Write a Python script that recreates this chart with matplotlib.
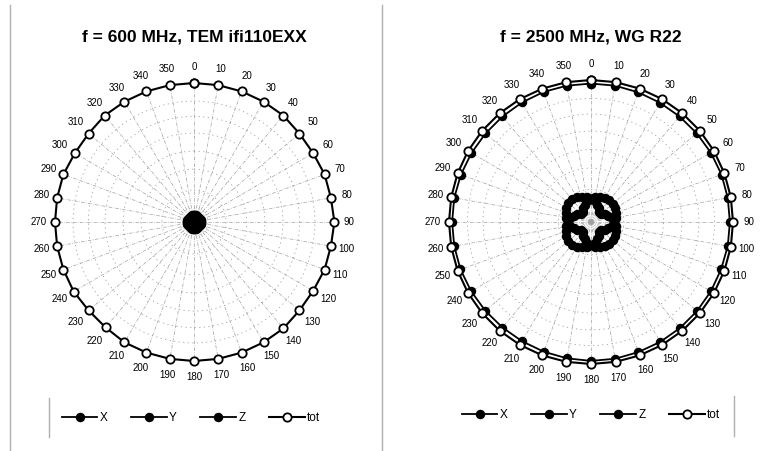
import matplotlib
matplotlib.use("Agg")
import matplotlib.pyplot as plt
import numpy as np
from matplotlib.lines import Line2D

plt.rcParams["font.family"] = ["Liberation Sans", "DejaVu Sans"]

# azimuth in degrees, 0 at top, clockwise
angles = list(range(0, 360, 10))
angle_labels = [str(a) for a in angles]

# 600 MHz, TEM cell: field components normalised to the total
tem_x = [0.05, 0.05, 0.05, 0.05, 0.05, 0.05, 0.05, 0.05, 0.05, 0.05, 0.05, 0.05,
         0.05, 0.05, 0.05, 0.05, 0.05, 0.05, 0.05, 0.05, 0.05, 0.05, 0.05, 0.05,
         0.05, 0.05, 0.05, 0.05, 0.05, 0.05, 0.05, 0.05, 0.05, 0.05, 0.05, 0.05]
tem_y = [0.04, 0.04, 0.04, 0.04, 0.04, 0.04, 0.04, 0.04, 0.04, 0.04, 0.04, 0.04,
         0.04, 0.04, 0.04, 0.04, 0.04, 0.04, 0.04, 0.04, 0.04, 0.04, 0.04, 0.04,
         0.04, 0.04, 0.04, 0.04, 0.04, 0.04, 0.04, 0.04, 0.04, 0.04, 0.04, 0.04]
tem_z = [0.03, 0.03, 0.03, 0.03, 0.03, 0.03, 0.03, 0.03, 0.03, 0.03, 0.03, 0.03,
         0.03, 0.03, 0.03, 0.03, 0.03, 0.03, 0.03, 0.03, 0.03, 0.03, 0.03, 0.03,
         0.03, 0.03, 0.03, 0.03, 0.03, 0.03, 0.03, 0.03, 0.03, 0.03, 0.03, 0.03]
tem_tot = [1.00, 1.00, 1.00, 1.00, 1.00, 0.99, 0.99, 1.00, 1.00, 1.01, 1.00, 1.00,
           0.99, 0.99, 1.00, 1.00, 1.00, 1.00, 1.00, 1.00, 1.00, 1.00, 0.99, 0.99,
           1.00, 1.00, 1.00, 1.00, 1.00, 1.00, 0.99, 0.99, 1.00, 1.00, 1.00, 1.00]

# 2500 MHz, waveguide R22
wg_x = [0.165, 0.18, 0.19, 0.195, 0.20, 0.20, 0.195, 0.19, 0.18, 0.165, 0.15, 0.13,
        0.11, 0.09, 0.09, 0.11, 0.13, 0.15, 0.165, 0.18, 0.19, 0.20, 0.21, 0.21,
        0.20, 0.19, 0.18, 0.165, 0.15, 0.13, 0.11, 0.09, 0.09, 0.11, 0.13, 0.15]
wg_y = [0.165, 0.15, 0.13, 0.11, 0.09, 0.09, 0.11, 0.13, 0.15, 0.165, 0.18, 0.19,
        0.195, 0.20, 0.20, 0.195, 0.19, 0.18, 0.165, 0.15, 0.13, 0.11, 0.09, 0.09,
        0.11, 0.13, 0.15, 0.165, 0.18, 0.19, 0.20, 0.21, 0.21, 0.20, 0.19, 0.18]
wg_z = [0.975, 0.975, 0.972, 0.97, 0.97, 0.972, 0.975, 0.978, 0.978, 0.978, 0.978, 0.975,
        0.975, 0.975, 0.975, 0.975, 0.975, 0.978, 0.978, 0.975, 0.972, 0.97, 0.97, 0.972,
        0.975, 0.978, 0.978, 0.978, 0.978, 0.975, 0.972, 0.97, 0.97, 0.972, 0.975, 0.975]
wg_tot = [1.00, 1.00, 1.00, 1.00, 1.00, 1.00, 1.00, 1.00, 1.00, 1.00, 1.00, 1.00,
          1.00, 1.00, 1.00, 1.00, 1.00, 1.00, 1.00, 1.00, 1.00, 1.00, 1.00, 1.00,
          1.00, 1.00, 1.00, 1.00, 1.00, 1.00, 1.00, 1.00, 1.00, 1.00, 1.00, 1.00]

ring_radii = [0.10, 0.23, 0.38, 0.51, 0.64, 0.76, 0.87]

W, H = 769, 451
fig = plt.figure(figsize=(W / 100, H / 100), dpi=100)


def closed(values):
    th = np.deg2rad(angles + [angles[0]])
    return th, list(values) + [values[0]]


def polar_panel(cx, cy, radius, title, x, y, z, tot, legend_cx, legend_y):
    ax = fig.add_axes([(cx - radius) / W, (H - cy - radius) / H,
                       2 * radius / W, 2 * radius / H], projection="polar")
    ax.set_theta_zero_location("N")
    ax.set_theta_direction(-1)
    ax.set_ylim(0, 1.0)
    ax.spines["polar"].set_visible(False)
    ax.set_thetagrids(angles, angle_labels, fontsize=7)
    ax.tick_params(axis="x", pad=1)
    ax.set_rgrids(ring_radii, labels=[])
    ax.xaxis.grid(True, color="#a0a0a0", lw=0.5, ls=(0, (5, 2, 1, 2)))
    ax.yaxis.grid(True, color="#a0a0a0", lw=0.6, ls=(0, (1.5, 4)))

    style = dict(color="black", lw=1.3, ms=5.5, mec="black", mew=1.3, clip_on=False)
    for vals, lab in [(x, "X"), (y, "Y"), (z, "Z")]:
        th, r = closed(vals)
        ax.plot(th, r, marker="o", mfc="black", label=lab, **style)
    th, r = closed(tot)
    ax.plot(th, r, marker="o", mfc="white", label="tot",
            **dict(style, lw=1.5, mew=1.3, ms=6))

    fig.text(cx / W, 1 - 37 / H, title, ha="center", va="center",
             fontsize=12.5, fontweight="bold")
    ax.legend(loc="center", bbox_to_anchor=(legend_cx / W, 1 - legend_y / H),
              bbox_transform=fig.transFigure, ncol=4, frameon=False,
              fontsize=8.5, handlelength=3.0, handletextpad=0.2,
              columnspacing=2.0, borderaxespad=0)
    return ax


polar_panel(194, 222, 139, "f = 600 MHz, TEM ifi110EXX",
            tem_x, tem_y, tem_z, tem_tot, 191, 418)
polar_panel(591, 222, 142, "f = 2500 MHz, WG R22",
            wg_x, wg_y, wg_z, wg_tot, 591, 415)

# thin frame rules of the panels
for x0, y0, y1 in [(10, 5, 451), (382, 5, 451), (49, 398, 437), (734, 396, 436)]:
    fig.add_artist(Line2D([x0 / W, x0 / W], [1 - y0 / H, 1 - y1 / H],
                          color="#b0b0b0", lw=1.0))

fig.savefig("out.png", dpi=100)
